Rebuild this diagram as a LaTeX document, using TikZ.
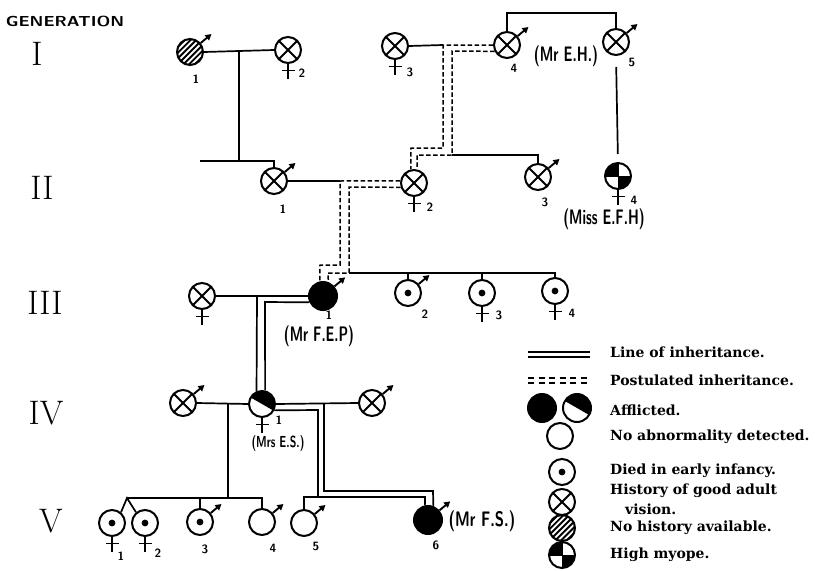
\documentclass[tikz,border=0pt]{standalone}
\usepackage{fontspec}
\newfontfamily\legfont{DejaVu Serif}
\usetikzlibrary{arrows.meta,calc}
\newcommand{\pedmal}[1]{\draw[sexline,-{Triangle[length=6pt,width=6.5pt]}] (#1.40) -- ++(40:14pt);}
\newcommand{\pedfem}[1]{\draw[sexline] (#1.south) -- ++(0,-15pt) ($(#1.south)+(-6.5pt,-6.5pt)$) -- ++(13pt,0);}
\tikzset{
 pers/.style={circle,draw,line width=2pt,minimum size=26pt,inner sep=0pt},
 big/.style={minimum size=28pt},
 xc/.style={pers,path picture={\draw[line width=1.8pt] (path picture bounding box.south west) -- (path picture bounding box.north east) (path picture bounding box.north west) -- (path picture bounding box.south east);}},
 dotp/.style={pers,path picture={\fill (path picture bounding box.center) circle (3.4pt);}},
 filled/.style={pers,fill=black},
 emptyp/.style={pers},
 hatch/.style={pers,path picture={\foreach \k in {-3,...,3}{\draw[line width=1.9pt] ($(path picture bounding box.center)+(\k*2.85pt,-\k*2.85pt)+(-16pt,-16pt)$) -- ++(32pt,32pt);}}},
 half/.style={pers,path picture={\fill (path picture bounding box.center) ++(-30:17pt) arc[start angle=-30,end angle=150,radius=17pt] -- cycle;}},
 myope/.style={pers,path picture={\fill (path picture bounding box.center) -- ++(180:17pt) arc[start angle=180,end angle=90,radius=17pt] -- cycle; \fill (path picture bounding box.center) -- ++(0:17pt) arc[start angle=0,end angle=-90,radius=17pt] -- cycle; \draw[line width=1pt] (path picture bounding box.center) +(-17pt,0) -- +(17pt,0) (path picture bounding box.center) +(0,-17pt) -- +(0,17pt);}},
 sexline/.style={line width=1.9pt},
 conn/.style={line width=1.7pt},
 dsh/.style={line width=1.5pt,dash pattern=on 4.5pt off 2.5pt},
 ldsh/.style={line width=1.5pt,dash pattern=on 6pt off 4.5pt},
 num/.style={font=\sffamily\bfseries\fontsize{12}{12}\selectfont,inner sep=0pt},
 hand/.style={font=\sffamily\bfseries\fontsize{21}{21}\selectfont,inner sep=0pt},
 handsm/.style={font=\sffamily\bfseries\fontsize{16}{16}\selectfont,inner sep=0pt},
 roman/.style={font=\fontsize{34}{34}\selectfont,inner sep=0pt},
 leg/.style={font=\legfont\bfseries\fontsize{14}{14}\selectfont,anchor=west,inner sep=0pt},
}
\begin{document}
\begin{tikzpicture}[x=1pt,y=-1pt]
\fill[white] (0,0) rectangle (815,571);
\useasboundingbox (0,0) rectangle (815,571);
% headings
\node[inner sep=0pt] (gen) at (65,21) {\scalebox{1.2}[1]{\sffamily\bfseries\fontsize{14.5}{14.5}\selectfont GENERATION}};
\node[roman] (rI) at (37,54) {I};
\node[roman] (rII) at (42,188) {II};
\node[roman] (rIII) at (45,303) {III};
\node[roman] (rIV) at (46,413) {IV};
\node[roman] (rV) at (51,521) {V};
% persons
\node[hatch] (I1) at (190,52) {};
\node[xc] (I2) at (288,50) {};
\node[xc] (I3) at (395,46) {};
\node[xc] (I4) at (507,45) {};
\node[xc] (I5) at (616,42) {};
\node[xc] (II1) at (274,181) {};
\node[xc] (II2) at (414,183) {};
\node[xc] (II3) at (538,177) {};
\node[myope] (II4) at (618,176) {};
\node[xc] (III0) at (202,296) {};
\node[filled,big] (III1) at (323,296) {};
\node[dotp] (III2) at (408,293) {};
\node[dotp] (III3) at (482,293) {};
\node[dotp] (III4) at (555,291) {};
\node[xc] (IV0) at (183,403) {};
\node[half] (IV1) at (262,404) {};
\node[xc] (IV2) at (372,403) {};
\node[dotp] (V1) at (112,523) {};
\node[dotp] (V2) at (145,523) {};
\node[dotp] (V3) at (200,522) {};
\node[emptyp] (V4) at (262,522) {};
\node[emptyp] (V5) at (304,523) {};
\node[filled,big] (V6) at (428,520) {};
% sex marks
\pedmal{I1} \pedfem{I2} \pedfem{I3} \pedmal{I4} \pedmal{I5}
\pedmal{II1} \pedfem{II2} \pedmal{II3} \pedfem{II4}
\pedfem{III0} \pedmal{III1} \pedmal{III2} \pedfem{III3} \pedfem{III4}
\pedmal{IV0} \pedfem{IV1} \pedmal{IV2}
\pedfem{V1} \pedfem{V2} \pedmal{V3} \pedmal{V4} \pedmal{V5} \pedmal{V6}
% numbers
\node[num] (nI1) at (196,79) {1};
\node[num] (nI2) at (302,73) {2};
\node[num] (nI3) at (410,72) {3};
\node[num] (nI4) at (514,68) {4};
\node[num] (nI5) at (632,62) {5};
\node[num] (nII1) at (283,209) {1};
\node[num] (nII2) at (430,207) {2};
\node[num] (nII3) at (545,202) {3};
\node[num] (nII4) at (634,200) {4};
\node[num] (nIII1) at (329,315) {1};
\node[num] (nIII2) at (425,314) {2};
\node[num] (nIII3) at (499,315) {3};
\node[num] (nIII4) at (572,313) {4};
\node[num] (nIV1) at (279,420) {1};
\node[num] (nV1) at (121,556) {1};
\node[num] (nV2) at (158,553) {2};
\node[num] (nV3) at (205,549) {3};
\node[num] (nV4) at (273,548) {4};
\node[num] (nV5) at (316,546) {5};
\node[num] (nV6) at (436,545) {6};
% names
\node[hand] (hEH) at (566,56) {\scalebox{0.66}[1]{(Mr E.H.)}};
\node[hand] (hEFH) at (604,219) {\scalebox{0.65}[1]{(Miss E.F.H)}};
\node[hand] (hFEP) at (319,336) {\scalebox{0.65}[1]{(Mr F.E.P)}};
\node[handsm] (hES) at (278,443) {\scalebox{0.68}[1]{(Mrs E.S.)}};
\node[hand] (hFS) at (482,521) {\scalebox{0.72}[1]{(Mr F.S.)}};
% coordinates
\coordinate (mI12) at (239,51);
\coordinate (sI1) at (239,161);
\coordinate (sL) at (200,161);
\coordinate (sR) at (274,161);
\coordinate (t4) at (507,13);
\coordinate (t5) at (616,13);
\coordinate (a1) at (443,45); \coordinate (a2) at (443,148); \coordinate (a3) at (411,148);
\coordinate (b1) at (452,51); \coordinate (b2) at (452,155); \coordinate (b3) at (417,155);
\coordinate (c1) at (538,155);
\coordinate (d1) at (340,181); \coordinate (d2) at (340,265); \coordinate (d3) at (320,265);
\coordinate (e1) at (349,187); \coordinate (e2) at (349,273); \coordinate (e3) at (328,273);
\coordinate (f4) at (555,273);
\coordinate (g1) at (257,296); \coordinate (g2) at (265,302);
\coordinate (h1) at (228,403); \coordinate (h2) at (228,498);
\coordinate (k1) at (127,498); \coordinate (k2) at (262,498);
\coordinate (m2) at (324,403);
\coordinate (n1) at (318,410); \coordinate (n2) at (318,497);
\coordinate (o1) at (324,491); \coordinate (o2) at (433,491);
\coordinate (p1) at (304,497); \coordinate (p2) at (425,497);
% generation I
\draw[conn] (I1.east) -- (I2.west);
\draw[conn] (mI12) -- (sI1);
\draw[conn] (sL) -- (sR) -- (II1.north);
\draw[conn] (I4.north) -- (t4) -- (t5) -- (I5.north);
\draw[conn,shorten <=11pt,shorten >=8pt] (I5.south) -- (II4.north);
\draw[conn] (I3.east) -- (a1);
\draw[dsh] (I4.west) -- (a1) -- (a2) -- (a3) -- (II2.103);
\draw[dsh] (I4.207) -- (b1) -- (b2) -- (b3) -- (II2.77);
\draw[conn] (b2) -- (c1) -- (II3.north);
% generation II
\draw[conn] (II1.east) -- (d1);
\draw[dsh] (II2.171) -- (d1) -- (d2) -- (d3) -- (III1.102);
\draw[dsh] (II2.198) -- (e1) -- (e2) -- (e3) -- (III1.69);
\draw[conn] (e2) -- (f4) -- (III4.north);
\draw[conn] (III2.north |- e2) -- (III2.north);
\draw[conn] (III3.north |- e2) -- (III3.north);
% generation III
\draw[conn] (III0.east) -- (III1.west);
\draw[conn] (g1) -- (IV1.113);
\draw[conn] (III1.205) -- (g2) -- (IV1.77);
% generation IV
\draw[conn] (IV0.east) -- (IV1.west);
\draw[conn] (h1) -- (h2);
\draw[conn] (k1) -- (k2) -- (V4.north);
\draw[conn] (V3.north |- k1) -- (V3.north);
\draw[conn] (V1.50) -- (k1) -- (V2.130);
\draw[conn] (IV1.east) -- (IV2.west);
\draw[conn] (m2) -- (o1) -- (o2) -- (V6.69);
\draw[conn] (IV1.333) -- (n1) -- (n2);
\draw[conn] (V5.north) -- (p1) -- (p2) -- (V6.102);
% legend
\coordinate (q1) at (528,352); \coordinate (q2) at (590,352);
\coordinate (q3) at (528,357); \coordinate (q4) at (590,357);
\coordinate (q5) at (528,378); \coordinate (q6) at (590,378);
\coordinate (q7) at (528,383); \coordinate (q8) at (590,383);
\draw[conn] (q1) -- (q2); \draw[conn] (q3) -- (q4);
\draw[ldsh] (q5) -- (q6); \draw[ldsh] (q7) -- (q8);
\node[filled,big] (L1) at (542,408) {};
\node[half,big] (L2) at (577,408) {};
\node[emptyp] (L3) at (560,436) {};
\node[dotp] (L4) at (562,472) {};
\node[xc] (L5) at (562,502) {};
\node[hatch] (L6) at (562,528) {};
\node[myope] (L7) at (562,555) {};
\node[leg] (t1) at (610,352) {Line of inheritance.};
\node[leg] (t2) at (610,380) {Postulated inheritance.};
\node[leg] (t3) at (610,410) {Afflicted.};
\node[leg] (t4t) at (610,437) {No abnormality detected.};
\node[leg] (t5t) at (610,471) {Died in early infancy.};
\node[leg] (t6) at (610,491) {History of good adult};
\node[leg] (t7) at (625,509) {vision.};
\node[leg] (t8) at (610,528) {No history available.};
\node[leg] (t9) at (610,555) {High myope.};
\end{tikzpicture}
\end{document}
